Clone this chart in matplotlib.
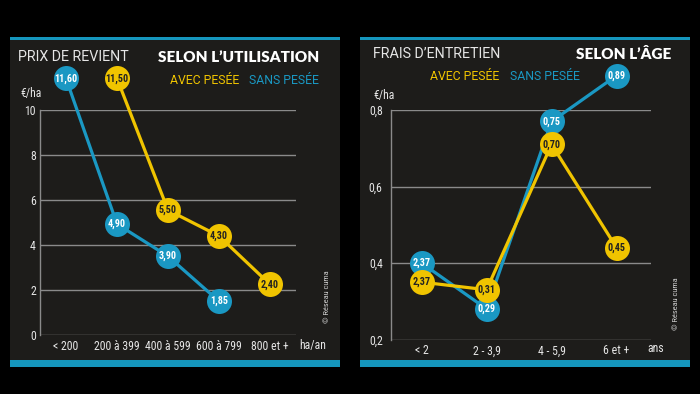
import matplotlib
matplotlib.use("Agg")
import matplotlib.pyplot as plt
import numpy as np
from matplotlib.patches import Rectangle
from matplotlib import font_manager

# ---- data (values as drawn in the picture; labels as printed) ----
cats_util = ["< 200", "200 à 399", "400 à 599", "600 à 799", "800 et +"]
avec_util = [np.nan, 11.40, 5.55, 4.40, 2.25]
sans_util = [11.40, 4.93, 3.50, 1.50, np.nan]
lab_avec_util = ["", "11,50", "5,50", "4,30", "2,40"]
lab_sans_util = ["11,60", "4,90", "3,90", "1,85", ""]
yticks_util = [0, 2, 4, 6, 8, 10]
ylabels_util = ["0", "2", "4", "6", "8", "10"]

cats_age = ["< 2", "2 - 3,9", "4 - 5,9", "6 et +"]
avec_age = [0.35, 0.33, 0.71, 0.44]
sans_age = [0.40, 0.28, 0.77, 0.89]
lab_avec_age = ["2,37", "0,31", "0,70", "0,45"]
lab_sans_age = ["2,37", "0,29", "0,75", "0,89"]
yticks_age = [0.2, 0.4, 0.6, 0.8]
ylabels_age = ["0,2", "0,4", "0,6", "0,8"]

TTF = font_manager.fontManager.ttflist
AVAIL = set(f.name for f in TTF)


def pick(cands):
    out = [c for c in cands if c in AVAIL]
    return [out[0] if out else "DejaVu Sans", "DejaVu Sans"]


def pick_weight(cands, minw):
    for c in cands:
        for f in TTF:
            try:
                w = int(f.weight)
            except Exception:
                continue
            if f.name == c and w >= minw:
                return [c, "DejaVu Sans"]
    return ["DejaVu Sans"]


NARROW = pick(["Roboto Condensed", "Archivo Narrow", "PT Sans Narrow", "Liberation Sans Narrow", "Arial Narrow"])
NARROW_B = pick_weight(["Roboto Condensed", "Archivo Narrow", "PT Sans Narrow", "Liberation Sans Narrow"], 700)
REG = pick(["Roboto", "Liberation Sans"])
HEAVY = pick_weight(["Montserrat", "Lato", "Roboto", "Open Sans"], 800)
if HEAVY == ["DejaVu Sans"]:
    HEAVY = pick_weight(["Montserrat", "Lato", "Roboto", "Open Sans"], 700)

W, H = 700, 394
BG = "#000000"
PANEL = "#1d1c1a"
TEAL = "#1596bd"
BLUE = "#1a98c3"
YELLOW = "#f0c400"
GRID = "#8a8a8a"
TXT = "#e6e6e6"

fig = plt.figure(figsize=(W / 100, H / 100), dpi=100, facecolor=BG)


def fx(x):
    return x / W


def fy(y):
    return 1 - y / H


def panel(x0, x1):
    fig.patches.append(Rectangle((fx(x0), fy(367)), fx(x1) - fx(x0), (367 - 37) / H,
                                 transform=fig.transFigure, facecolor=PANEL, edgecolor="none", zorder=-2))
    fig.patches.append(Rectangle((fx(x0), fy(39.5)), fx(x1) - fx(x0), 2.5 / H,
                                 transform=fig.transFigure, facecolor=TEAL, edgecolor="none", zorder=-1))
    fig.patches.append(Rectangle((fx(x0), fy(367)), fx(x1) - fx(x0), 7 / H,
                                 transform=fig.transFigure, facecolor=TEAL, edgecolor="none", zorder=-1))


panel(10, 340)
panel(360, 690)


def make_axes(x0, x1, y0, y1):
    ax = fig.add_axes([fx(x0), fy(y1), fx(x1) - fx(x0), (y1 - y0) / H])
    ax.set_zorder(2)
    ax.patch.set_visible(False)
    for s in ["top", "right", "bottom"]:
        ax.spines[s].set_visible(False)
    ax.spines["left"].set_color(GRID)
    ax.spines["left"].set_linewidth(1)
    ax.grid(axis="y", color=GRID, lw=1)
    ax.set_axisbelow(True)
    ax.tick_params(length=0, colors=TXT, labelsize=8.5)
    return ax


def draw_series(ax, x, vals, labels, color, tcolor, z):
    ax.plot(x, vals, color=color, lw=2.3, zorder=z, clip_on=False, solid_capstyle="round")
    ax.plot(x, vals, "o", ms=18, color=color, mec="none", zorder=z + 0.5, clip_on=False)
    for xi, v, l in zip(x, vals, labels):
        if l and not np.isnan(v):
            ax.text(xi, v, l, ha="center", va="center", color=tcolor, fontsize=7.3,
                    fontweight="bold", family=NARROW_B, zorder=z + 1, clip_on=False)


# ---- left panel ----
ax1 = make_axes(40, 296, 110, 335)
x1 = np.arange(len(cats_util))
ax1.set_xlim(-0.51, len(cats_util) - 0.49)
ax1.set_ylim(0, 10)
ax1.set_yticks(yticks_util)
ax1.set_yticklabels(ylabels_util, family=NARROW)
ax1.set_xticks(x1)
ax1.set_xticklabels(cats_util, family=NARROW)
ax1.tick_params(axis="x", pad=3.5)
ax1.tick_params(axis="y", pad=3)
draw_series(ax1, x1, sans_util, lab_sans_util, BLUE, "white", 3)
draw_series(ax1, x1, avec_util, lab_avec_util, YELLOW, "#222222", 5)

# ---- right panel ----
ax2 = make_axes(391, 651, 110, 339.5)
x2 = np.arange(len(cats_age))
ax2.set_xlim(-0.47, len(cats_age) - 0.47)
ax2.set_ylim(0.2, 0.8)
ax2.set_yticks(yticks_age)
ax2.set_yticklabels(ylabels_age, family=NARROW)
ax2.set_xticks(x2)
ax2.set_xticklabels(cats_age, family=NARROW)
ax2.tick_params(axis="x", pad=3.5)
ax2.tick_params(axis="y", pad=6)
draw_series(ax2, x2, sans_age, lab_sans_age, BLUE, "white", 3)
draw_series(ax2, x2, avec_age, lab_avec_age, YELLOW, "#222222", 5)

# ---- texts ----
fig.text(fx(18), fy(57), "PRIX DE REVIENT", color=TXT, fontsize=10.3, family=REG,
         va="center", ha="left")
fig.text(fx(319), fy(57), "SELON L\u2019UTILISATION", color="white", fontsize=11, fontweight="heavy",
         family=HEAVY, va="center", ha="right")
fig.text(fx(170), fy(81), "AVEC PESÉE", color=YELLOW, fontsize=8.8, family=REG, va="center", ha="left")
fig.text(fx(249), fy(81), "SANS PESÉE", color=BLUE, fontsize=8.8, family=REG, va="center", ha="left")
fig.text(fx(20), fy(94), "€/ha", color=TXT, fontsize=8.5, family=NARROW, va="center", ha="left")
fig.text(fx(299), fy(345), "ha/an", color=TXT, fontsize=8.5, family=NARROW, va="center", ha="left")
fig.text(fx(327), fy(297), "© Réseau cuma", color="#cfcfcf", fontsize=6, family=NARROW,
         rotation=90, va="center", ha="center")

fig.text(fx(373), fy(54), "FRAIS D\u2019ENTRETIEN", color=TXT, fontsize=10.3, family=REG,
         va="center", ha="left")
fig.text(fx(671), fy(54), "SELON L\u2019ÂGE", color="white", fontsize=11, fontweight="heavy",
         family=HEAVY, va="center", ha="right")
fig.text(fx(430), fy(76), "AVEC PESÉE", color=YELLOW, fontsize=8.8, family=REG, va="center", ha="left")
fig.text(fx(510), fy(76), "SANS PESÉE", color=BLUE, fontsize=8.8, family=REG, va="center", ha="left")
fig.text(fx(373), fy(95), "€/ha", color=TXT, fontsize=8.5, family=NARROW, va="center", ha="left")
fig.text(fx(647), fy(348), "ans", color=TXT, fontsize=8.5, family=NARROW, va="center", ha="left")
fig.text(fx(676), fy(304), "© Réseau cuma", color="#cfcfcf", fontsize=6, family=NARROW,
         rotation=90, va="center", ha="center")

fig.savefig("out.png", dpi=100, facecolor=BG)
